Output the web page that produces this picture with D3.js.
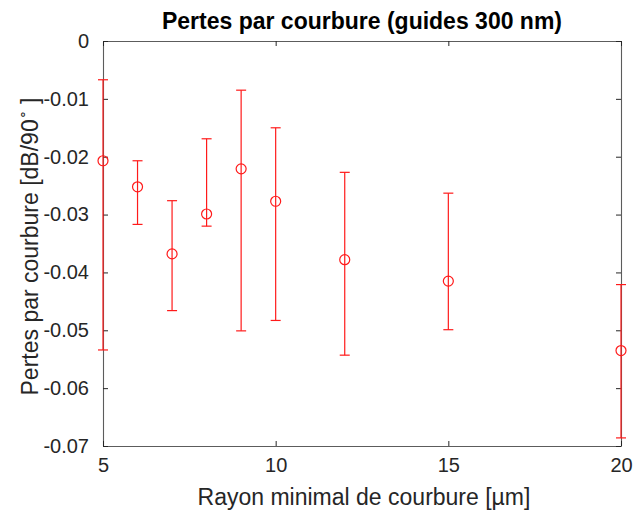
<!DOCTYPE html>
<html>
<head>
<meta charset="utf-8">
<script src="https://cdn.jsdelivr.net/npm/d3@7"></script>
<style>
  html, body { margin: 0; padding: 0; background: #fff; }
  svg { display: block; font-family: "Liberation Sans", Arial, Helvetica, sans-serif; }
</style>
</head>
<body>
<svg id="chart" width="635" height="512"></svg>
<script>
// Bend radius (µm) and measured bending loss (dB per 90° bend)
const radius = [5, 6, 7, 8, 9, 10, 12, 15, 20];
const lossMean = [-0.0207, -0.0252, -0.0368, -0.0299, -0.0221, -0.0277, -0.0378, -0.0415, -0.0535];
const lossUpper = [-0.0067, -0.0207, -0.0276, -0.0169, -0.0085, -0.0150, -0.0227, -0.0263, -0.0421];
const lossLower = [-0.0534, -0.0317, -0.0466, -0.0320, -0.0501, -0.0483, -0.0543, -0.0499, -0.0686];

const xTicks = [5, 10, 15, 20];
const yTicks = [0, -0.01, -0.02, -0.03, -0.04, -0.05, -0.06, -0.07];

const svg = d3.select("#chart");
const plotL = 103, plotR = 621, plotT = 41, plotB = 446;

const x = d3.scaleLinear().domain([5, 20]).range([plotL, plotR]);
const y = d3.scaleLinear().domain([-0.07, 0]).range([plotB, plotT]);

const axisColor = "#262626";
const tickLen = 5;
const fmtY = d => d === 0 ? "0" : d3.format(".2f")(d).replace("−", "-");

// Axes (box with inward ticks on all four sides)
const gx = svg.append("g").attr("transform", `translate(0,${plotB})`)
  .call(d3.axisBottom(x).tickValues(xTicks).tickSizeInner(-tickLen).tickSizeOuter(0).tickPadding(12).tickFormat(d3.format("d")));
const gxTop = svg.append("g").attr("transform", `translate(0,${plotT})`)
  .call(d3.axisTop(x).tickValues(xTicks).tickSizeInner(-tickLen).tickSizeOuter(0).tickFormat(""));
const gy = svg.append("g").attr("transform", `translate(${plotL},0)`)
  .call(d3.axisLeft(y).tickValues(yTicks).tickSizeInner(-tickLen).tickSizeOuter(0).tickPadding(14).tickFormat(fmtY));
const gyRight = svg.append("g").attr("transform", `translate(${plotR},0)`)
  .call(d3.axisRight(y).tickValues(yTicks).tickSizeInner(-tickLen).tickSizeOuter(0).tickFormat(""));

[gx, gxTop, gy, gyRight].forEach(g => {
  g.select(".domain").attr("stroke", axisColor).attr("stroke-width", 1.1).attr("opacity", 0.75);
  g.selectAll(".tick line").attr("stroke", axisColor).attr("stroke-width", 1);
  g.selectAll(".tick text").attr("fill", "#262626").attr("font-size", 20)
    .attr("font-family", "'Liberation Sans', Arial, sans-serif");
});

// Error bars and markers
const red = "#ff1a1a";
const capHalf = 5;
const pts = radius.map((r, i) => ({ r, m: lossMean[i], hi: lossUpper[i], lo: lossLower[i] }));
const bars = svg.append("g").attr("stroke", red).attr("stroke-width", 1.2).attr("fill", "none");
const pg = bars.selectAll("g").data(pts).join("g");
pg.append("line")
  .attr("x1", d => x(d.r)).attr("x2", d => x(d.r))
  .attr("y1", d => y(d.hi)).attr("y2", d => y(d.lo));
pg.append("line")
  .attr("x1", d => x(d.r) - capHalf).attr("x2", d => x(d.r) + capHalf)
  .attr("y1", d => y(d.hi)).attr("y2", d => y(d.hi));
pg.append("line")
  .attr("x1", d => x(d.r) - capHalf).attr("x2", d => x(d.r) + capHalf)
  .attr("y1", d => y(d.lo)).attr("y2", d => y(d.lo));
pg.append("circle")
  .attr("cx", d => x(d.r)).attr("cy", d => y(d.m)).attr("r", 5)
  .attr("fill", "none");

// Title and axis labels
svg.append("text")
  .attr("x", (plotL + plotR) / 2).attr("y", 29)
  .attr("text-anchor", "middle").attr("font-weight", "bold").attr("font-size", 23)
  .attr("fill", "#000")
  .text("Pertes par courbure (guides 300 nm)");

svg.append("text")
  .attr("x", (plotL + plotR) / 2 + 2).attr("y", 505)
  .attr("text-anchor", "middle").attr("font-size", 23).attr("fill", "#262626")
  .text("Rayon minimal de courbure [µm]");

const yl = svg.append("text")
  .attr("transform", `translate(38,${(plotT + plotB) / 2 + 3}) rotate(-90)`)
  .attr("text-anchor", "middle").attr("font-size", 23).attr("fill", "#262626");
yl.append("tspan").text("Pertes par courbure [dB/90");
yl.append("tspan").attr("font-size", 14).attr("dy", -11).text("∘");
yl.append("tspan").attr("dy", 11).text("  ]");
</script>
</body>
</html>
